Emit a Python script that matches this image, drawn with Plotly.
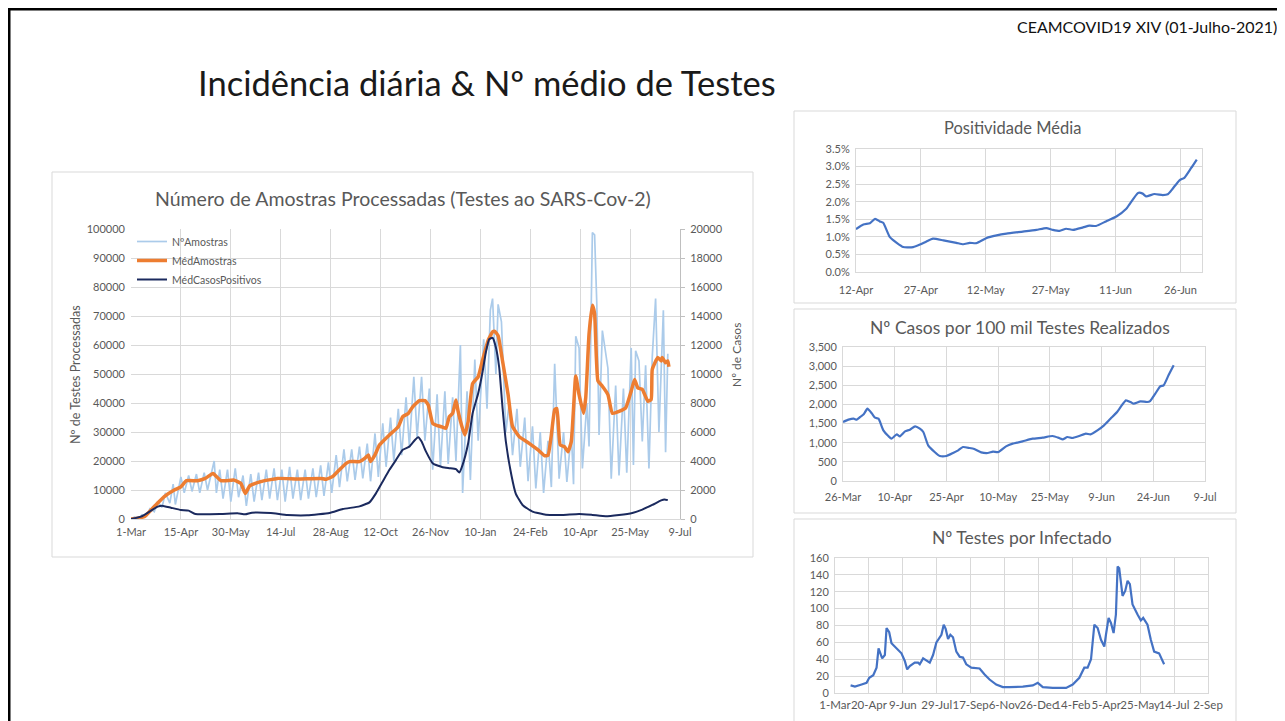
import pandas as pd
import plotly.graph_objects as go

W, H = 1285, 721
OFF = 8  # page body margin of the html page


def fx(p):
    return (p - OFF) / W


def fy(p):
    return 1 - (p - OFF) / H


FONT = "Lato"
GRID = "#D9D9D9"
TXT = "#595959"

# ---------------- Main chart data (day offsets from 1-Mar-2020) ----------------
main_start = pd.Timestamp("2020-03-01")
main_ticks = ["2020-03-01", "2020-04-15", "2020-05-30", "2020-07-14", "2020-08-28", "2020-10-12",
              "2020-11-26", "2021-01-10", "2021-02-24", "2021-04-10", "2021-05-25", "2021-07-09"]

amostras_days = [0, 3, 7, 10, 14, 17, 21, 24, 28, 31, 35, 38, 40, 45, 48, 52, 55, 59, 62, 66, 69, 73, 75, 77,
                 80, 83, 87, 90, 94, 97, 101, 104, 108, 111, 115, 118, 122, 125, 129, 132, 136, 139, 143, 146,
                 150, 153, 157, 160, 164, 167, 171, 174, 178, 181, 185, 188, 192, 195, 199, 202, 206, 209, 213,
                 216, 220, 223, 227, 230, 234, 237, 241, 244, 248, 251, 255, 258, 262, 265, 269, 272, 276, 279,
                 283, 286, 290, 293, 297, 299, 303, 306, 310, 313, 318, 321, 324, 326, 329, 331, 334, 338, 341,
                 344, 348, 351, 355, 358, 362, 365, 369, 372, 376, 379, 382, 386, 390, 393, 397, 399, 401, 404,
                 407, 411, 413, 416, 418, 420, 422, 425, 430, 433, 437, 440, 444, 447, 451, 453, 455, 458, 461,
                 464, 467, 470, 473, 476, 480, 482, 484]
amostras_vals = [0, 600, 300, 1500, 1000, 3500, 2500, 6000, 4000, 9000, 5500, 12000, 5000, 14500, 9000, 15000,
                 9500, 15500, 9000, 16000, 10000, 16500, 20000, 9000, 17000, 7000, 17000, 6000, 17500, 7500,
                 15000, 4500, 15500, 6000, 16000, 6500, 17000, 7000, 17500, 6500, 17000, 6000, 18000, 7000,
                 17000, 6500, 17000, 7000, 17500, 7500, 18500, 8000, 19500, 9000, 22000, 11000, 24000, 13000,
                 24000, 13500, 25000, 14000, 26000, 13000, 29500, 14500, 33000, 18000, 35000, 20000, 38000,
                 22000, 42000, 25000, 49000, 28000, 49000, 27000, 45000, 17000, 43000, 18000, 44000, 19000,
                 42000, 20000, 60000, 9000, 44000, 13500, 55000, 27000, 62000, 38000, 72000, 76000, 50000,
                 74000, 68000, 30000, 40000, 22000, 38000, 18000, 35000, 13000, 32000, 10500, 30000, 9000,
                 27000, 11000, 53500, 13900, 30000, 12800, 30000, 12000, 63000, 59000, 17400, 40000, 25000,
                 98800, 98000, 74000, 29000, 65000, 52000, 13900, 46000, 15000, 45000, 16000, 59000, 18600,
                 58000, 54500, 26700, 53000, 17400, 56000, 76000, 30000, 72000, 23000, 57000]

med_amostras_days = [0, 12, 21, 30, 39, 45, 50, 60, 67, 74, 81, 93, 99, 103, 107, 117, 132, 150, 171, 176, 182,
                     188, 194, 197, 206, 211, 214, 216, 220, 224, 233, 241, 245, 250, 254, 260, 265, 268, 272,
                     275, 280, 284, 287, 290, 293, 295, 298, 301, 304, 308, 313, 317, 322, 326, 328, 331, 335,
                     340, 344, 350, 359, 367, 373, 376, 379, 382, 384, 387, 391, 394, 397, 401, 404, 408, 410,
                     413, 416, 418, 421, 425, 430, 434, 440, 446, 451, 454, 457, 461, 466, 469, 470, 475, 478,
                     479, 482, 484, 485]
med_amostras_vals = [0, 800, 4300, 7700, 10000, 11100, 13200, 13200, 14000, 15700, 13200, 13400, 12300, 8800,
                     11400, 12900, 14000, 13800, 14000, 13700, 14700, 17000, 19200, 19800, 19800, 21000, 22100,
                     19800, 22100, 25500, 29000, 31800, 35300, 36400, 38700, 40800, 40800, 39300, 33000, 32400,
                     31800, 31300, 35300, 36400, 41000, 37000, 32400, 29000, 33600, 46700, 49000, 54800, 61600,
                     64500, 64700, 63200, 54500, 42900, 31900, 28400, 26100, 23800, 21800, 22000, 29000, 37700,
                     38100, 25500, 24900, 23200, 26700, 49300, 42900, 36500, 41800, 63800, 73700, 70800, 47600,
                     45800, 42900, 36500, 37100, 38300, 44100, 48100, 45200, 44700, 40600, 41200, 51600, 55700,
                     54500, 55700, 53900, 54500, 52500]

med_casos_days = [0, 9, 18, 24, 28, 36, 45, 52, 58, 81, 96, 103, 109, 126, 141, 159, 179, 191, 206, 215, 221,
                  227, 233, 239, 245, 251, 256, 259, 262, 266, 272, 277, 281, 287, 293, 296, 299, 304, 308, 313,
                  317, 320, 323, 326, 329, 332, 335, 338, 343, 347, 353, 362, 374, 389, 404, 416, 428, 440, 452,
                  461, 470, 478, 481, 484]
med_casos_vals = [0, 160, 575, 850, 920, 780, 620, 575, 345, 345, 390, 320, 437, 414, 276, 253, 412, 687, 870,
                  1146, 1786, 2590, 3390, 4080, 4770, 4990, 5450, 5636, 5340, 4650, 3850, 3670, 3574, 3506, 3436,
                  3208, 3734, 5220, 7290, 8660, 10150, 11520, 12400, 12500, 11830, 10440, 7660, 5340, 3020, 1740,
                  970, 510, 300, 280, 350, 280, 190, 280, 420, 650, 970, 1280, 1350, 1300]

# ---------------- Positividade Média (day offsets from 12-Apr-2021, % values) ----------------
pos_start = pd.Timestamp("2021-04-12")
pos_ticks = ["2021-04-12", "2021-04-27", "2021-05-12", "2021-05-27", "2021-06-11", "2021-06-26"]
pos_days = [0, 1.7, 3.2, 4.4, 5.5, 6.3, 7.8, 9.4, 10.9, 13.2, 14.8, 16.3, 17.8, 20.2, 23.2, 24.8, 26.3, 27.8,
            30.2, 32.5, 34.8, 38.6, 41.7, 44, 45.5, 47.1, 48.6, 50.2, 52.5, 54, 55.5, 57.8, 60.2, 62.5, 65.2,
            66.3, 67.1, 69, 70.9, 72.1, 73.2, 74.8, 75.9, 77.5, 78.8]
pos_vals = [1.22, 1.35, 1.39, 1.51, 1.44, 1.40, 1.00, 0.83, 0.71, 0.71, 0.78, 0.87, 0.95, 0.90, 0.83, 0.79, 0.83,
            0.82, 0.97, 1.04, 1.09, 1.15, 1.20, 1.25, 1.20, 1.17, 1.23, 1.20, 1.27, 1.32, 1.31, 1.44, 1.58, 1.80,
            2.25, 2.23, 2.15, 2.22, 2.19, 2.21, 2.37, 2.61, 2.68, 2.96, 3.20]

# ---------------- Nº Casos por 100 mil Testes (day offsets from 26-Mar-2021) ----------------
cas_start = pd.Timestamp("2021-03-26")
cas_ticks = ["2021-03-26", "2021-04-10", "2021-04-25", "2021-05-10", "2021-05-25", "2021-06-09",
             "2021-06-24", "2021-07-09"]
cas_days = [0, 1.6, 3.1, 4, 5, 6, 7.1, 8.4, 9.3, 10.3, 11.7, 13.2, 14.1, 15.6, 16.5, 18, 19.4, 20.9, 22.3, 23.3,
            24.7, 26.6, 28.1, 30, 31.9, 33.4, 34.8, 36.7, 38.1, 40.1, 42, 43.5, 45.1, 47.3, 49.2, 52.1, 55, 57.9,
            60.8, 62.7, 63.7, 65.1, 66.5, 68.5, 70.4, 71.8, 73.8, 75.7, 77.6, 79.5, 81, 82.1, 83.4, 84.3, 86.3,
            88.2, 89.1, 90.6, 92, 93, 94.4, 95.9]
cas_vals = [1541, 1602, 1628, 1602, 1672, 1741, 1889, 1759, 1654, 1628, 1323, 1167, 1106, 1219, 1167, 1297, 1341,
            1428, 1367, 1280, 932, 757, 653, 653, 731, 801, 888, 862, 836, 749, 731, 766, 757, 905, 975, 1036,
            1106, 1132, 1175, 1123, 1088, 1149, 1123, 1175, 1236, 1219, 1323, 1454, 1628, 1802, 1994, 2107, 2063,
            2020, 2081, 2063, 2089, 2281, 2473, 2499, 2760, 3021]

# ---------------- Nº Testes por Infectado (day offsets from 1-Mar-2020) ----------------
tpi_start = pd.Timestamp("2020-03-01")
tpi_ticks = ["2020-03-01", "2020-04-20", "2020-06-09", "2020-07-29", "2020-09-17", "2020-11-06",
             "2020-12-26", "2021-02-14", "2021-04-05", "2021-05-25", "2021-07-14", "2021-09-02"]
tpi_days = [23.0, 29.4, 39.2, 46.6, 50.5, 56.4, 61.3, 64.2, 69.6, 73.5, 76.0, 79.9, 83.3, 90.7, 98.0, 102.9,
            106.4, 110.3, 117.6, 122.5, 125.0, 129.9, 134.8, 139.7, 144.6, 149.5, 156.9, 160.3, 163.2, 166.7,
            170.1, 174.0, 178.9, 183.8, 188.7, 193.6, 201.0, 213.2, 220.6, 227.9, 237.7, 247.5, 257.4, 277.0,
            291.7, 299.0, 306.4, 321.1, 340.7, 350.5, 360.3, 367.6, 372.5, 377.5, 382.4, 387.3, 392.2, 397.1,
            399.5, 403.4, 406.9, 410.8, 414.2, 416.7, 419.1, 424.0, 427.9, 431.4, 434.8, 438.7, 446.1, 451.0,
            454.4, 460.8, 465.7, 470.6, 477.9, 485.3]
tpi_vals = [9, 7.5, 10, 12, 18, 21, 30, 53, 41, 45, 77, 72, 59, 53, 47, 38, 28, 32, 36, 36, 34, 41, 38, 36, 45,
            60, 69, 81, 76, 64, 69, 66, 49, 43, 42, 34, 30, 29, 22, 16, 10, 7, 7, 7.5, 9, 12, 7, 6, 6, 10, 18,
            30, 30, 40, 81, 77, 63, 55, 69, 89, 83, 71, 93, 150, 148, 115, 121, 133, 129, 105, 93, 86, 89, 81,
            63, 49, 47, 34]


def to_dates(start, days):
    return [start + pd.Timedelta(hours=round(d * 24)) for d in days]


fig = go.Figure()

fig.add_trace(go.Scatter(x=to_dates(main_start, amostras_days), y=amostras_vals, mode="lines",
                         name="NºAmostras", line=dict(color="#ABCBEA", width=1.7),
                         xaxis="x", yaxis="y"))
fig.add_trace(go.Scatter(x=to_dates(main_start, med_amostras_days), y=med_amostras_vals, mode="lines",
                         name="MédAmostras",
                         line=dict(color="#ED7D31", width=3.5, shape="spline", smoothing=0.4),
                         xaxis="x", yaxis="y"))
fig.add_trace(go.Scatter(x=to_dates(main_start, med_casos_days), y=med_casos_vals, mode="lines",
                         name="MédCasosPositivos",
                         line=dict(color="#1B2A5E", width=2, shape="spline", smoothing=0.4),
                         xaxis="x", yaxis="y2"))

BLUE = "#4472C4"
fig.add_trace(go.Scatter(x=to_dates(pos_start, pos_days), y=[v / 100 for v in pos_vals], mode="lines",
                         showlegend=False, line=dict(color=BLUE, width=2.2, shape="spline", smoothing=0.5),
                         xaxis="x3", yaxis="y3"))
fig.add_trace(go.Scatter(x=to_dates(cas_start, cas_days), y=cas_vals, mode="lines",
                         showlegend=False, line=dict(color=BLUE, width=2.2, shape="spline", smoothing=0.5),
                         xaxis="x4", yaxis="y4"))
fig.add_trace(go.Scatter(x=to_dates(tpi_start, tpi_days), y=tpi_vals, mode="lines",
                         showlegend=False, line=dict(color=BLUE, width=2.2),
                         xaxis="x5", yaxis="y5"))

tickfont = dict(family=FONT, size=11, color=TXT)


def xdate(x0, x1, rng, ticks, anchor, mirror=False, fsize=11, standoff=0):
    return dict(domain=[fx(x0), fx(x1)], anchor=anchor, type="date", range=rng, tickmode="array",
                tickvals=ticks, tickformat="%-d-%b", showgrid=True, gridcolor=GRID, gridwidth=1,
                showline=True, linecolor=GRID, mirror=mirror, zeroline=False, ticks="",
                tickfont=dict(family=FONT, size=fsize, color=TXT), tickangle=0, fixedrange=True,
                automargin=False, ticklabelstandoff=standoff)


def ylin(y_bottom, y_top, rng, dtick, anchor, fmt="d", mirror=False, standoff=0):
    return dict(domain=[fy(y_bottom), fy(y_top)], anchor=anchor, range=rng, dtick=dtick, showgrid=True,
                gridcolor=GRID, gridwidth=1, zeroline=False, showline=mirror, linecolor=GRID, mirror=mirror,
                ticks="", tickfont=tickfont, fixedrange=True, tickformat=fmt, automargin=False,
                ticklabelstandoff=standoff)


fig.update_layout(
    width=W, height=H, margin=dict(l=0, r=0, t=0, b=0, pad=0), autosize=False,
    paper_bgcolor="white", plot_bgcolor="rgba(0,0,0,0)",
    font=dict(family=FONT, color=TXT),
    showlegend=True,
    legend=dict(x=fx(132), y=fy(227), xanchor="left", yanchor="top", bgcolor="rgba(0,0,0,0)",
                font=dict(family=FONT, size=10.5, color=TXT), tracegroupgap=0, itemwidth=30),
    xaxis=xdate(131, 680, ["2020-03-01", "2021-07-09"], main_ticks, "y", standoff=3),
    yaxis=ylin(519, 229, [0, 100000], 10000, "x", standoff=5),
    yaxis2=dict(overlaying="y", side="right", anchor="x", range=[0, 20000], dtick=2000, showgrid=False,
                zeroline=False, showline=True, linecolor="#BFBFBF", ticks="outside", ticklen=4,
                tickcolor="#BFBFBF", tickfont=tickfont, fixedrange=True, tickformat="d", automargin=False,
                ticklabelstandoff=3),
    xaxis3=xdate(856, 1202, ["2021-04-12", "2021-07-01"], pos_ticks, "y3", mirror=True, standoff=8),
    yaxis3=ylin(272, 149, [0, 0.035], 0.005, "x3", fmt=".1%", mirror=True, standoff=3),
    xaxis4=xdate(843, 1205, ["2021-03-26", "2021-07-09"], cas_ticks, "y4", mirror=True, standoff=6),
    yaxis4=ylin(481, 347, [0, 3500], 500, "x4", fmt=",", mirror=True, standoff=3),
    xaxis5=xdate(835, 1208, ["2020-03-01", "2021-09-02"], tpi_ticks, "y5", mirror=True, fsize=11.5, standoff=1),
    yaxis5=ylin(693, 558, [0, 160], 20, "x5", mirror=True, standoff=3),
)


def rect(x0, y0, x1, y1, color=GRID, width=1):
    return dict(type="rect", xref="paper", yref="paper", x0=fx(x0), x1=fx(x1), y0=fy(y1), y1=fy(y0),
                line=dict(color=color, width=width), fillcolor="rgba(0,0,0,0)", layer="below")


shapes = [
    rect(52, 172, 753, 557),
    rect(794, 111, 1236, 303),
    rect(794, 309, 1236, 513),
    rect(794, 519, 1236, 740),
    dict(type="line", xref="paper", yref="paper", x0=fx(8), x1=fx(1300), y0=fy(9), y1=fy(9),
         line=dict(color="black", width=3)),
    dict(type="line", xref="paper", yref="paper", x0=fx(9), x1=fx(9), y0=fy(8), y1=fy(740),
         line=dict(color="black", width=3)),
]
fig.update_layout(shapes=shapes)


def ann(text, x, y, size, color=TXT, xanchor="center", angle=0):
    return dict(text=text, x=fx(x), y=fy(y), xref="paper", yref="paper", showarrow=False,
                xanchor=xanchor, yanchor="middle", textangle=angle,
                font=dict(family=FONT, size=size, color=color))


fig.update_layout(annotations=[
    ann("CEAMCOVID19 XIV (01-Julho-2021)", 1279, 27, 16, color="#111111", xanchor="right"),
    ann("Incidência diária & Nº médio de Testes", 196, 83, 34.5, color="#1a1a1a", xanchor="left"),
    ann("Número de Amostras Processadas (Testes ao SARS-Cov-2)", 403, 198, 19.5),
    ann("Nº de Testes Processadas", 75, 375, 12.5, angle=-90),
    ann("Nº de Casos", 736, 355, 12, angle=-90),
    ann("Positividade Média", 1012, 128, 16.5),
    ann("Nº Casos por 100 mil Testes Realizados", 1020, 327, 17.5),
    ann("Nº Testes por Infectado", 1022, 537, 17.5),
])

fig.write_html("out.html")
